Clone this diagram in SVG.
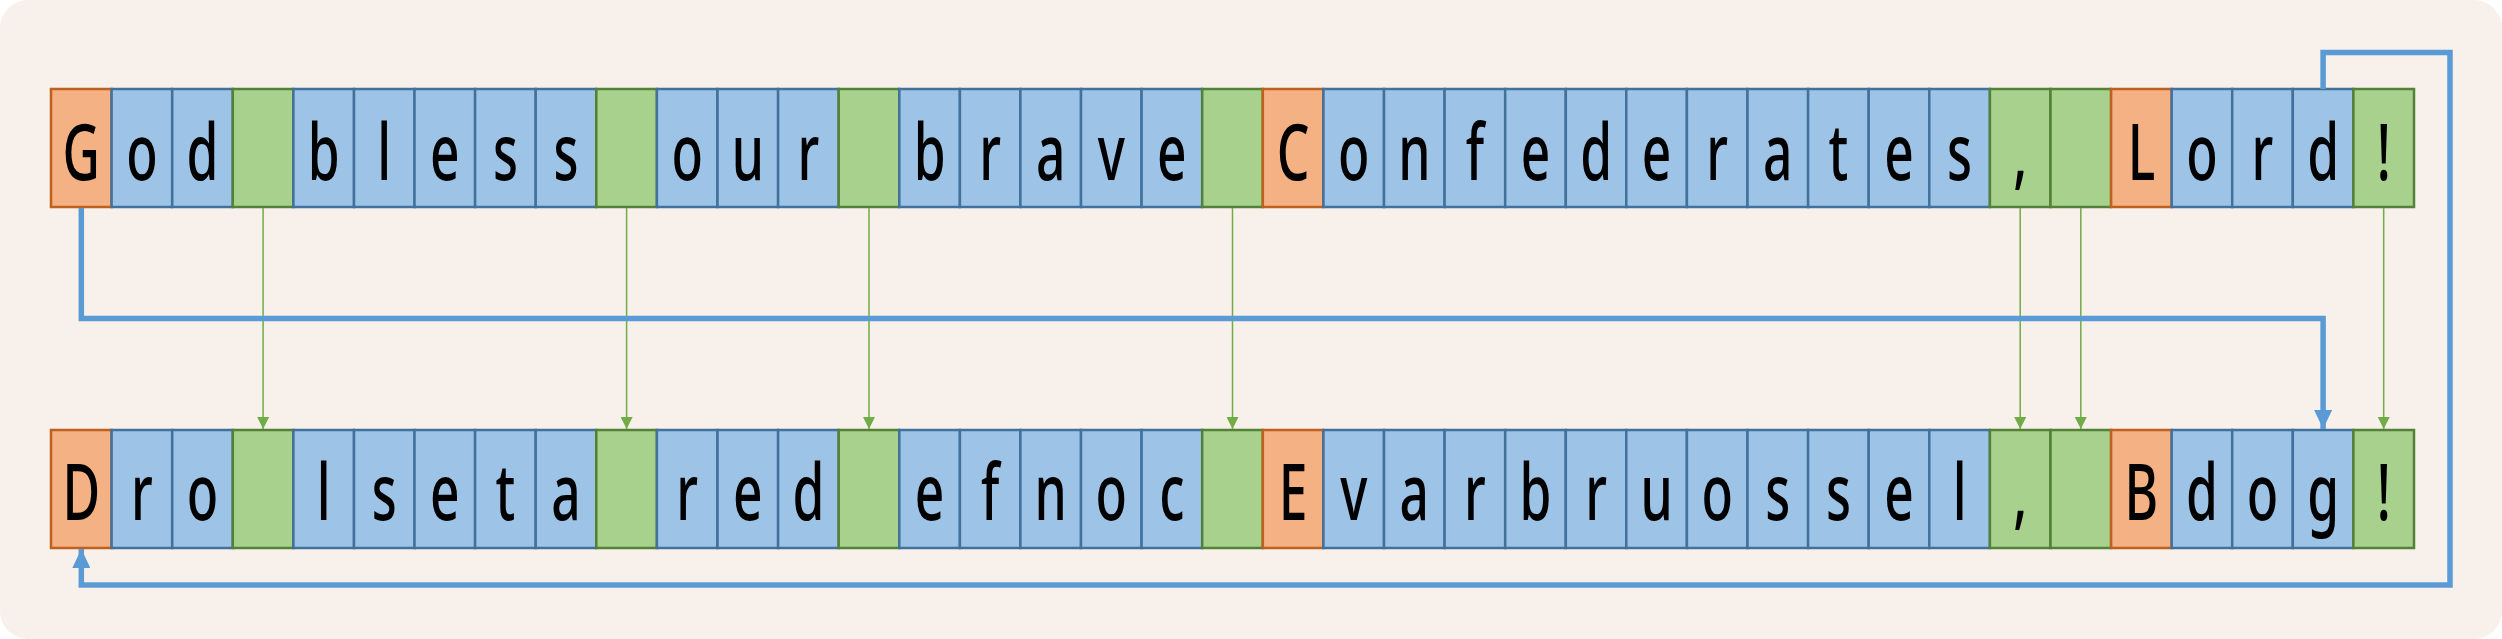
<svg xmlns="http://www.w3.org/2000/svg" width="2502" height="639" viewBox="0 0 2502 639">
<defs>
<style>
.b{fill:#9DC3E6;stroke:#41719C;stroke-width:2.5}
.o{fill:#F4B183;stroke:#C0601F;stroke-width:2.5}
.g{fill:#A9D18E;stroke:#538135;stroke-width:2.5}
.t{font-family:"Noto Sans","DejaVu Sans",sans-serif;font-size:78px;font-weight:500;fill:#000;text-anchor:middle}
.cg{fill:none;stroke:#70AD47;stroke-width:1.5}
.cb{fill:none;stroke:#5B9BD5;stroke-width:5.5}
</style>
<marker id="ag" markerWidth="12" markerHeight="12" viewBox="0 0 12 12" refX="12" refY="6" orient="auto" markerUnits="userSpaceOnUse"><path d="M0,0 L12,6 L0,12 Z" fill="#70AD47"/></marker>
<marker id="ab" markerWidth="19" markerHeight="18" viewBox="0 0 19 18" refX="19" refY="9" orient="auto" markerUnits="userSpaceOnUse"><path d="M0,0 L19,9 L0,18 Z" fill="#5B9BD5"/></marker>
</defs>
<rect x="0" y="0" width="2502" height="639" rx="28" fill="#F7F0EB"/>
<g id="top-row">
<g id="t0"><rect class="o" x="51.0" y="89" width="60.6" height="118"/><text class="t" transform="translate(81.3,180) scale(0.66,1)">G</text></g>
<g id="t1"><rect class="b" x="111.6" y="89" width="60.6" height="118"/><text class="t" transform="translate(141.9,180) scale(0.66,1)">o</text></g>
<g id="t2"><rect class="b" x="172.2" y="89" width="60.6" height="118"/><text class="t" transform="translate(202.5,180) scale(0.66,1)">d</text></g>
<g id="t3"><rect class="g" x="232.8" y="89" width="60.6" height="118"/></g>
<g id="t4"><rect class="b" x="293.4" y="89" width="60.6" height="118"/><text class="t" transform="translate(323.7,180) scale(0.66,1)">b</text></g>
<g id="t5"><rect class="b" x="354.0" y="89" width="60.6" height="118"/><text class="t" transform="translate(384.3,180) scale(0.66,1)">l</text></g>
<g id="t6"><rect class="b" x="414.5" y="89" width="60.6" height="118"/><text class="t" transform="translate(444.8,180) scale(0.66,1)">e</text></g>
<g id="t7"><rect class="b" x="475.1" y="89" width="60.6" height="118"/><text class="t" transform="translate(505.4,180) scale(0.66,1)">s</text></g>
<g id="t8"><rect class="b" x="535.7" y="89" width="60.6" height="118"/><text class="t" transform="translate(566.0,180) scale(0.66,1)">s</text></g>
<g id="t9"><rect class="g" x="596.3" y="89" width="60.6" height="118"/></g>
<g id="t10"><rect class="b" x="656.9" y="89" width="60.6" height="118"/><text class="t" transform="translate(687.2,180) scale(0.66,1)">o</text></g>
<g id="t11"><rect class="b" x="717.5" y="89" width="60.6" height="118"/><text class="t" transform="translate(747.8,180) scale(0.66,1)">u</text></g>
<g id="t12"><rect class="b" x="778.1" y="89" width="60.6" height="118"/><text class="t" transform="translate(808.4,180) scale(0.66,1)">r</text></g>
<g id="t13"><rect class="g" x="838.7" y="89" width="60.6" height="118"/></g>
<g id="t14"><rect class="b" x="899.3" y="89" width="60.6" height="118"/><text class="t" transform="translate(929.6,180) scale(0.66,1)">b</text></g>
<g id="t15"><rect class="b" x="959.9" y="89" width="60.6" height="118"/><text class="t" transform="translate(990.2,180) scale(0.66,1)">r</text></g>
<g id="t16"><rect class="b" x="1020.4" y="89" width="60.6" height="118"/><text class="t" transform="translate(1050.7,180) scale(0.66,1)">a</text></g>
<g id="t17"><rect class="b" x="1081.0" y="89" width="60.6" height="118"/><text class="t" transform="translate(1111.3,180) scale(0.66,1)">v</text></g>
<g id="t18"><rect class="b" x="1141.6" y="89" width="60.6" height="118"/><text class="t" transform="translate(1171.9,180) scale(0.66,1)">e</text></g>
<g id="t19"><rect class="g" x="1202.2" y="89" width="60.6" height="118"/></g>
<g id="t20"><rect class="o" x="1262.8" y="89" width="60.6" height="118"/><text class="t" transform="translate(1293.1,180) scale(0.66,1)">C</text></g>
<g id="t21"><rect class="b" x="1323.4" y="89" width="60.6" height="118"/><text class="t" transform="translate(1353.7,180) scale(0.66,1)">o</text></g>
<g id="t22"><rect class="b" x="1384.0" y="89" width="60.6" height="118"/><text class="t" transform="translate(1414.3,180) scale(0.66,1)">n</text></g>
<g id="t23"><rect class="b" x="1444.6" y="89" width="60.6" height="118"/><text class="t" transform="translate(1474.9,180) scale(0.66,1)">f</text></g>
<g id="t24"><rect class="b" x="1505.2" y="89" width="60.6" height="118"/><text class="t" transform="translate(1535.5,180) scale(0.66,1)">e</text></g>
<g id="t25"><rect class="b" x="1565.8" y="89" width="60.6" height="118"/><text class="t" transform="translate(1596.1,180) scale(0.66,1)">d</text></g>
<g id="t26"><rect class="b" x="1626.3" y="89" width="60.6" height="118"/><text class="t" transform="translate(1656.6,180) scale(0.66,1)">e</text></g>
<g id="t27"><rect class="b" x="1686.9" y="89" width="60.6" height="118"/><text class="t" transform="translate(1717.2,180) scale(0.66,1)">r</text></g>
<g id="t28"><rect class="b" x="1747.5" y="89" width="60.6" height="118"/><text class="t" transform="translate(1777.8,180) scale(0.66,1)">a</text></g>
<g id="t29"><rect class="b" x="1808.1" y="89" width="60.6" height="118"/><text class="t" transform="translate(1838.4,180) scale(0.66,1)">t</text></g>
<g id="t30"><rect class="b" x="1868.7" y="89" width="60.6" height="118"/><text class="t" transform="translate(1899.0,180) scale(0.66,1)">e</text></g>
<g id="t31"><rect class="b" x="1929.3" y="89" width="60.6" height="118"/><text class="t" transform="translate(1959.6,180) scale(0.66,1)">s</text></g>
<g id="t32"><rect class="g" x="1989.9" y="89" width="60.6" height="118"/><text class="t" transform="translate(2020.2,180) scale(0.66,1)">,</text></g>
<g id="t33"><rect class="g" x="2050.5" y="89" width="60.6" height="118"/></g>
<g id="t34"><rect class="o" x="2111.1" y="89" width="60.6" height="118"/><text class="t" transform="translate(2141.4,180) scale(0.66,1)">L</text></g>
<g id="t35"><rect class="b" x="2171.7" y="89" width="60.6" height="118"/><text class="t" transform="translate(2202.0,180) scale(0.66,1)">o</text></g>
<g id="t36"><rect class="b" x="2232.2" y="89" width="60.6" height="118"/><text class="t" transform="translate(2262.5,180) scale(0.66,1)">r</text></g>
<g id="t37"><rect class="b" x="2292.8" y="89" width="60.6" height="118"/><text class="t" transform="translate(2323.1,180) scale(0.66,1)">d</text></g>
<g id="t38"><rect class="g" x="2353.4" y="89" width="60.6" height="118"/><text class="t" transform="translate(2383.7,180) scale(0.66,1)">!</text></g>
</g>
<g id="bottom-row">
<g id="b0"><rect class="o" x="51.0" y="430" width="60.6" height="118"/><text class="t" transform="translate(81.3,520) scale(0.66,1)">D</text></g>
<g id="b1"><rect class="b" x="111.6" y="430" width="60.6" height="118"/><text class="t" transform="translate(141.9,520) scale(0.66,1)">r</text></g>
<g id="b2"><rect class="b" x="172.2" y="430" width="60.6" height="118"/><text class="t" transform="translate(202.5,520) scale(0.66,1)">o</text></g>
<g id="b3"><rect class="g" x="232.8" y="430" width="60.6" height="118"/></g>
<g id="b4"><rect class="b" x="293.4" y="430" width="60.6" height="118"/><text class="t" transform="translate(323.7,520) scale(0.66,1)">l</text></g>
<g id="b5"><rect class="b" x="354.0" y="430" width="60.6" height="118"/><text class="t" transform="translate(384.3,520) scale(0.66,1)">s</text></g>
<g id="b6"><rect class="b" x="414.5" y="430" width="60.6" height="118"/><text class="t" transform="translate(444.8,520) scale(0.66,1)">e</text></g>
<g id="b7"><rect class="b" x="475.1" y="430" width="60.6" height="118"/><text class="t" transform="translate(505.4,520) scale(0.66,1)">t</text></g>
<g id="b8"><rect class="b" x="535.7" y="430" width="60.6" height="118"/><text class="t" transform="translate(566.0,520) scale(0.66,1)">a</text></g>
<g id="b9"><rect class="g" x="596.3" y="430" width="60.6" height="118"/></g>
<g id="b10"><rect class="b" x="656.9" y="430" width="60.6" height="118"/><text class="t" transform="translate(687.2,520) scale(0.66,1)">r</text></g>
<g id="b11"><rect class="b" x="717.5" y="430" width="60.6" height="118"/><text class="t" transform="translate(747.8,520) scale(0.66,1)">e</text></g>
<g id="b12"><rect class="b" x="778.1" y="430" width="60.6" height="118"/><text class="t" transform="translate(808.4,520) scale(0.66,1)">d</text></g>
<g id="b13"><rect class="g" x="838.7" y="430" width="60.6" height="118"/></g>
<g id="b14"><rect class="b" x="899.3" y="430" width="60.6" height="118"/><text class="t" transform="translate(929.6,520) scale(0.66,1)">e</text></g>
<g id="b15"><rect class="b" x="959.9" y="430" width="60.6" height="118"/><text class="t" transform="translate(990.2,520) scale(0.66,1)">f</text></g>
<g id="b16"><rect class="b" x="1020.4" y="430" width="60.6" height="118"/><text class="t" transform="translate(1050.7,520) scale(0.66,1)">n</text></g>
<g id="b17"><rect class="b" x="1081.0" y="430" width="60.6" height="118"/><text class="t" transform="translate(1111.3,520) scale(0.66,1)">o</text></g>
<g id="b18"><rect class="b" x="1141.6" y="430" width="60.6" height="118"/><text class="t" transform="translate(1171.9,520) scale(0.66,1)">c</text></g>
<g id="b19"><rect class="g" x="1202.2" y="430" width="60.6" height="118"/></g>
<g id="b20"><rect class="o" x="1262.8" y="430" width="60.6" height="118"/><text class="t" transform="translate(1293.1,520) scale(0.66,1)">E</text></g>
<g id="b21"><rect class="b" x="1323.4" y="430" width="60.6" height="118"/><text class="t" transform="translate(1353.7,520) scale(0.66,1)">v</text></g>
<g id="b22"><rect class="b" x="1384.0" y="430" width="60.6" height="118"/><text class="t" transform="translate(1414.3,520) scale(0.66,1)">a</text></g>
<g id="b23"><rect class="b" x="1444.6" y="430" width="60.6" height="118"/><text class="t" transform="translate(1474.9,520) scale(0.66,1)">r</text></g>
<g id="b24"><rect class="b" x="1505.2" y="430" width="60.6" height="118"/><text class="t" transform="translate(1535.5,520) scale(0.66,1)">b</text></g>
<g id="b25"><rect class="b" x="1565.8" y="430" width="60.6" height="118"/><text class="t" transform="translate(1596.1,520) scale(0.66,1)">r</text></g>
<g id="b26"><rect class="b" x="1626.3" y="430" width="60.6" height="118"/><text class="t" transform="translate(1656.6,520) scale(0.66,1)">u</text></g>
<g id="b27"><rect class="b" x="1686.9" y="430" width="60.6" height="118"/><text class="t" transform="translate(1717.2,520) scale(0.66,1)">o</text></g>
<g id="b28"><rect class="b" x="1747.5" y="430" width="60.6" height="118"/><text class="t" transform="translate(1777.8,520) scale(0.66,1)">s</text></g>
<g id="b29"><rect class="b" x="1808.1" y="430" width="60.6" height="118"/><text class="t" transform="translate(1838.4,520) scale(0.66,1)">s</text></g>
<g id="b30"><rect class="b" x="1868.7" y="430" width="60.6" height="118"/><text class="t" transform="translate(1899.0,520) scale(0.66,1)">e</text></g>
<g id="b31"><rect class="b" x="1929.3" y="430" width="60.6" height="118"/><text class="t" transform="translate(1959.6,520) scale(0.66,1)">l</text></g>
<g id="b32"><rect class="g" x="1989.9" y="430" width="60.6" height="118"/><text class="t" transform="translate(2020.2,520) scale(0.66,1)">,</text></g>
<g id="b33"><rect class="g" x="2050.5" y="430" width="60.6" height="118"/></g>
<g id="b34"><rect class="o" x="2111.1" y="430" width="60.6" height="118"/><text class="t" transform="translate(2141.4,520) scale(0.66,1)">B</text></g>
<g id="b35"><rect class="b" x="2171.7" y="430" width="60.6" height="118"/><text class="t" transform="translate(2202.0,520) scale(0.66,1)">d</text></g>
<g id="b36"><rect class="b" x="2232.2" y="430" width="60.6" height="118"/><text class="t" transform="translate(2262.5,520) scale(0.66,1)">o</text></g>
<g id="b37"><rect class="b" x="2292.8" y="430" width="60.6" height="118"/><text class="t" transform="translate(2323.1,520) scale(0.66,1)">g</text></g>
<g id="b38"><rect class="g" x="2353.4" y="430" width="60.6" height="118"/><text class="t" transform="translate(2383.7,520) scale(0.66,1)">!</text></g>
</g>
<g id="connectors">
<path class="cg" d="M263.1,208 V429" marker-end="url(#ag)"/>
<path class="cg" d="M626.6,208 V429" marker-end="url(#ag)"/>
<path class="cg" d="M869.0,208 V429" marker-end="url(#ag)"/>
<path class="cg" d="M1232.5,208 V429" marker-end="url(#ag)"/>
<path class="cg" d="M2020.2,208 V429" marker-end="url(#ag)"/>
<path class="cg" d="M2080.8,208 V429" marker-end="url(#ag)"/>
<path class="cg" d="M2383.7,208 V429" marker-end="url(#ag)"/>
<path class="cb" d="M81.3,208 V318.5 H2323.1 V429" marker-end="url(#ab)"/>
<path class="cb" d="M2323.1,89 V52.5 H2450 V585 H81.3 V549" marker-end="url(#ab)"/>
</g>
</svg>
